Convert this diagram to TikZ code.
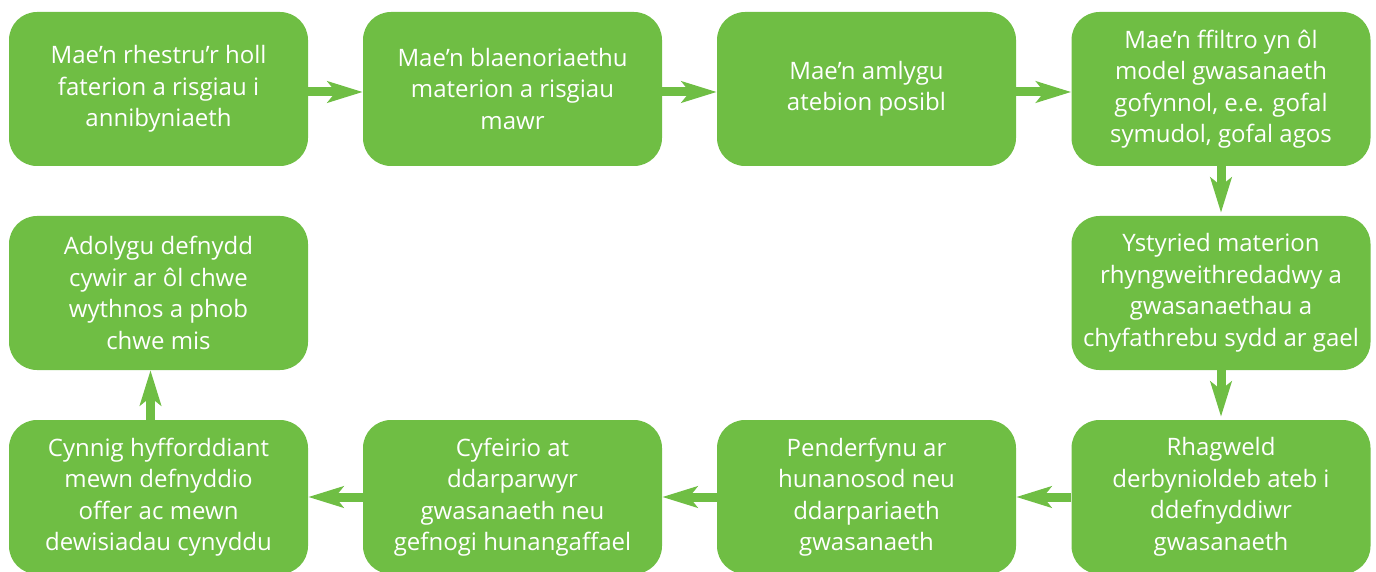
\documentclass[tikz,border=0pt]{standalone}
\usepackage{fontspec}
\setmainfont{Open Sans}
\usetikzlibrary{arrows.meta}
\definecolor{boxgreen}{HTML}{6FBE44}
\tikzset{
  stepbox/.style={fill=boxgreen, rounded corners=28pt, minimum width=299pt, minimum height=154pt,
    text=white, align=center, inner sep=0pt,
    font=\fontsize{24}{31.5}\selectfont},
  flow/.style={draw=boxgreen, line width=9pt,
    -{Stealth[length=35pt,width=21pt,inset=8pt]}}
}
\begin{document}
\begin{tikzpicture}[x=1pt,y=1pt]
\useasboundingbox (0,0) rectangle (1376,-572);
\node[stepbox] (b1) at (158.5,-89) {Mae’n rhestru’r holl\\faterion a risgiau i\\annibyniaeth};
\node[stepbox] (b2) at (512.5,-89) {Mae’n blaenoriaethu\\materion a risgiau\\mawr};
\node[stepbox] (b3) at (866.5,-89) {Mae’n amlygu\\atebion posibl};
\node[stepbox] (b4) at (1221,-89) {Mae’n ffiltro yn ôl\\model gwasanaeth\\gofynnol, e.e. gofal\\symudol, gofal agos};
\node[stepbox] (b5) at (1221,-293) {Ystyried materion\\rhyngweithredadwy a\\gwasanaethau a\\chyfathrebu sydd ar gael};
\node[stepbox] (b6) at (1221,-497) {Rhagweld\\derbynioldeb ateb i\\ddefnyddiwr\\gwasanaeth};
\node[stepbox] (b7) at (866.5,-497) {Penderfynu ar\\hunanosod neu\\ddarpariaeth\\gwasanaeth};
\node[stepbox] (b8) at (512.5,-497) {Cyfeirio at\\ddarparwyr\\gwasanaeth neu\\gefnogi hunangaffael};
\node[stepbox] (b9) at (158.5,-497) {Cynnig hyfforddiant\\mewn defnyddio\\offer ac mewn\\dewisiadau cynyddu};
\node[stepbox] (b10) at (158.5,-293) {Adolygu defnydd\\cywir ar ôl chwe\\wythnos a phob\\chwe mis};
\draw[flow] ([yshift=-3pt]b1.east) -- ([yshift=-3pt]b2.west);
\draw[flow] ([yshift=-3pt]b2.east) -- ([yshift=-3pt]b3.west);
\draw[flow] ([yshift=-3pt]b3.east) -- ([yshift=-3pt]b4.west);
\draw[flow] (b4.south) -- ([yshift=3pt]b5.north);
\draw[flow] (b5.south) -- ([yshift=3pt]b6.north);
\draw[flow] (b6.west) -- (b7.east);
\draw[flow] (b7.west) -- (b8.east);
\draw[flow] (b8.west) -- (b9.east);
\draw[flow] ([xshift=-8pt]b9.north) -- ([xshift=-8pt]b10.south);
\end{tikzpicture}
\end{document}
